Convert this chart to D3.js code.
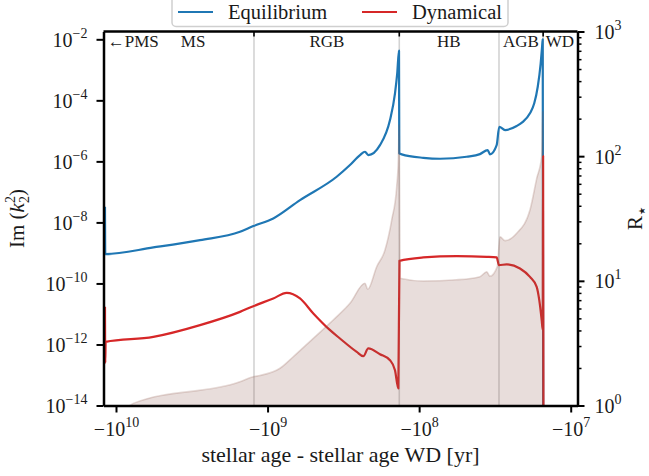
<!DOCTYPE html>
<html>
<head>
<meta charset="utf-8">
<script src="https://cdn.jsdelivr.net/npm/d3@7"></script>
<style>
  body { margin: 0; background: #ffffff; }
</style>
</head>
<body>
<svg id="chart" width="649" height="476"></svg>
<script>
// Stellar age relative to the white-dwarf formation age [yr] and the tidal response.
// Equilibrium tide, Im(k2^2)
const eqAge = [-1.182e10, -1.177e10, -5.67e9, -2.79e9, -1.52e9, -1.242e9, -9.17e8, -6.11e8,
  -3.50e8, -2.86e8, -2.455e8, -2.276e8, -2.165e8, -1.813e8, -1.557e8, -1.443e8, -1.395e8,
  -1.358e8, -1.352e8, -1.303e8, -9.39e7, -7.28e7, -4.86e7, -3.97e7, -3.53e7, -3.41e7,
  -3.08e7, -2.96e7, -2.71e7, -2.272e7, -2.08e7, -1.857e7, -1.74e7, -1.65e7, -1.578e7,
  -1.545e7, -1.530e7, -1.517e7];
const eqVal = [3.24e-8, 9.14e-10, 1.51e-9, 2.63e-9, 4.92e-9, 7.57e-9, 1.35e-8, 5.38e-8,
  3.13e-7, 7.57e-7, 1.61e-6, 2.07e-6, 1.61e-6, 3.42e-6, 2.26e-5, 1.70e-4, 7.67e-4,
  4.23e-3, 1.83e-6, 1.70e-6, 1.31e-6, 1.22e-6, 1.42e-6, 1.73e-6, 2.34e-6, 1.70e-6,
  3.42e-6, 1.36e-5, 1.06e-5, 1.44e-5, 1.93e-5, 3.75e-5, 7.98e-5, 2.79e-4, 1.63e-3,
  5.71e-3, 1.0e-2, 1e-16];

// Dynamical tide, Im(k2^2)
const dynAge = [-1.182e10, -1.177e10, -1.17e10, -5.67e9, -2.79e9, -1.52e9, -1.242e9, -9.17e8,
  -7.48e8, -6.11e8, -4.99e8, -3.87e8, -3.33e8, -2.58e8, -2.336e8, -2.165e8, -1.813e8,
  -1.557e8, -1.443e8, -1.372e8, -1.348e8, -9.39e7, -5.65e7, -3.58e7, -3.08e7, -2.973e7,
  -2.645e7, -2.161e7, -1.857e7, -1.677e7, -1.612e7, -1.554e7, -1.530e7, -1.521e7, -1.512e7];
const dynVal = [1.71e-11, 2.49e-13, 1.22e-12, 1.77e-12, 4.30e-12, 1.17e-11, 1.8e-11, 3.22e-11,
  4.92e-11, 3.22e-11, 1.04e-11, 2.94e-12, 1.57e-12, 5.71e-13, 4.13e-13, 7.40e-13, 4.8e-13,
  3.05e-13, 1.44e-13, 3.60e-14, 5.51e-10, 7.11e-10, 7.85e-10, 7.45e-10, 7.11e-10, 3.98e-10,
  4.20e-10, 3.10e-10, 1.64e-10, 7.74e-11, 2.83e-11, 6.27e-12, 3e-12, 1.49e-6, 1e-16];

// Stellar radius R* [R_sun]
const radAge = [-1.182e10, -8.08e9, -7.69e9, -1.52e9, -1.242e9, -1.122e9, -8.28e8, -6.77e8,
  -4.99e8, -3.69e8, -2.86e8, -2.276e8, -2.185e8, -1.905e8, -1.680e8, -1.517e8, -1.406e8,
  -1.372e8, -1.354e8, -1.338e8, -9.39e7, -5.65e7, -3.97e7, -3.58e7, -3.41e7, -3.05e7,
  -2.93e7, -2.71e7, -2.272e7, -1.857e7, -1.677e7, -1.554e7, -1.530e7, -1.512e7];
const radVal = [0.85, 1.0, 1.04, 1.55, 1.70, 1.74, 1.99, 2.46, 3.46, 4.85, 6.61, 9.56, 8.55,
  12.98, 17.67, 30.7, 56.9, 93.2, 177.8, 10.5, 9.97, 10.2, 10.8, 11.8, 10.9, 13.0, 22.6,
  21.0, 24.1, 37.0, 66.0, 99.5, 227, 0.01];

// Evolutionary phases
const phaseNames = ["\u2190PMS", "MS", "RGB", "HB", "AGB", "WD"];
const phaseAges = [-7.69e9, -3.10e9, -4.06e8, -6.37e7, -2.13e7, -1.18e7];
const dividerAges = [-1.229e9, -1.352e8, -2.973e7, -1.52e7];
const topMarkAges = [-1.229e9, -1.352e8, -1.52e7];

// Tick values
const xTicks = [-1e10, -1e9, -1e8, -1e7];
const xTickExp = ["10", "9", "8", "7"];
const yLeftTicks = [1e-2, 1e-4, 1e-6, 1e-8, 1e-10, 1e-12, 1e-14];
const yLeftExp = ["\u22122", "\u22124", "\u22126", "\u22128", "\u221210", "\u221212", "\u221214"];
const yRightTicks = [1, 10, 100, 1000];
const yRightExp = ["0", "1", "2", "3"];

const seriesNames = ["Equilibrium", "Dynamical"];
const seriesColors = ["#1f77b4", "#d62728"];

const FONT = "'Liberation Serif', 'DejaVu Serif', serif";
const svg = d3.select("#chart").style("font-family", FONT);
const L = 103.5, R = 577.5, T = 31.5, B = 405.5;

const x = d3.scaleLog().domain([-1.209e10, -9.02e6]).range([L, R]);
const yL = d3.scaleLog().domain([1e-14, Math.pow(10, -1.744)]).range([B, T]);
const yR = d3.scaleLog().domain([1, 1000]).range([B, T]);

function txt(parent, size) {
  return parent.append("text")
    .attr("font-family", FONT).style("font-family", FONT)
    .style("font-size", size + "px").attr("fill", "#1a1a1a");
}

svg.append("defs").append("clipPath").attr("id", "plotclip")
  .append("rect").attr("x", L).attr("y", T).attr("width", R - L).attr("height", B - T);

const plot = svg.append("g").attr("clip-path", "url(#plotclip)");

// phase dividers
plot.selectAll("line.div").data(dividerAges).join("line")
  .attr("class", "div")
  .attr("x1", d => x(d)).attr("x2", d => x(d))
  .attr("y1", T).attr("y2", B)
  .attr("stroke", "#d3d3d3").attr("stroke-width", 1.6);

// tidal response curves
const eqData = eqAge.map((a, i) => [a, eqVal[i]]);
const dynData = dynAge.map((a, i) => [a, dynVal[i]]);
const lineL = d3.line().x(d => x(d[0])).y(d => yL(d[1])).curve(d3.curveMonotoneX);

plot.append("path").datum(eqData).attr("d", lineL)
  .attr("fill", "none").attr("stroke", seriesColors[0]).attr("stroke-width", 2.2)
  .attr("stroke-linejoin", "round");
plot.append("path").datum(dynData).attr("d", lineL)
  .attr("fill", "none").attr("stroke", seriesColors[1]).attr("stroke-width", 2.2)
  .attr("stroke-linejoin", "round");

// stellar radius (right axis), shaded
const radData = radAge.map((a, i) => [a, radVal[i]]);
const area = d3.area().x(d => x(d[0])).y0(B).y1(d => yR(d[1])).curve(d3.curveMonotoneX);
plot.append("path").datum(radData).attr("d", area)
  .attr("fill", "rgba(140,86,75,0.2)").attr("stroke", "none");
plot.append("path").datum(radData)
  .attr("d", d3.line().x(d => x(d[0])).y(d => yR(d[1])).curve(d3.curveMonotoneX))
  .attr("fill", "none").attr("stroke", "rgba(140,86,75,0.22)").attr("stroke-width", 1.6);

// short marks under the top spine at phase boundaries
svg.selectAll("line.mark").data(topMarkAges).join("line")
  .attr("class", "mark")
  .attr("x1", d => x(d)).attr("x2", d => x(d))
  .attr("y1", T).attr("y2", T + 5)
  .attr("stroke", "#000").attr("stroke-width", 1.6);

// phase labels
phaseNames.forEach((n, i) => {
  txt(svg, 17).attr("x", x(phaseAges[i])).attr("y", 46.5)
    .attr("text-anchor", "middle").text(n);
});

// axes
const tickStroke = 2;
const xAxis = svg.append("g").attr("transform", `translate(0,${B})`)
  .call(d3.axisBottom(x).tickValues(xTicks).tickSize(7).tickSizeOuter(0).tickFormat(""));
xAxis.selectAll(".tick text").remove();
xAxis.selectAll(".tick").each(function(d, i) {
  const t = txt(d3.select(this), 20).attr("y", 30).attr("text-anchor", "middle");
  t.append("tspan").text("\u221210");
  t.append("tspan").attr("dy", -9).style("font-size", "14px").text(xTickExp[i]);
});

const yAxisL = svg.append("g").attr("transform", `translate(${L},0)`)
  .call(d3.axisLeft(yL).tickValues(yLeftTicks).tickSize(7).tickSizeOuter(0).tickFormat(""));
yAxisL.selectAll(".tick text").remove();
yAxisL.selectAll(".tick").each(function(d, i) {
  const t = txt(d3.select(this), 20).attr("x", -16).attr("y", 7).attr("text-anchor", "end");
  t.append("tspan").text("10");
  t.append("tspan").attr("dy", -9).style("font-size", "14px").text(yLeftExp[i]);
});

const minorR = [];
[1, 10, 100].forEach(p => { for (let k = 2; k <= 9; k++) minorR.push(k * p); });
svg.append("g").attr("transform", `translate(${R},0)`)
  .call(d3.axisRight(yR).tickValues(minorR).tickSize(4).tickSizeOuter(0).tickFormat(""))
  .call(g => g.select(".domain").remove())
  .selectAll(".tick line").attr("stroke-width", 1.5);
const yAxisR = svg.append("g").attr("transform", `translate(${R},0)`)
  .call(d3.axisRight(yR).tickValues(yRightTicks).tickSize(7).tickSizeOuter(0).tickFormat(""));
yAxisR.selectAll(".tick text").remove();
yAxisR.selectAll(".tick").each(function(d, i) {
  const t = txt(d3.select(this), 20).attr("x", 17).attr("y", 7).attr("text-anchor", "start");
  t.append("tspan").text("10");
  t.append("tspan").attr("dy", -9).style("font-size", "14px").text(yRightExp[i]);
});

[xAxis, yAxisL, yAxisR].forEach(g => {
  g.selectAll(".tick line").attr("stroke-width", tickStroke);
  g.select(".domain").attr("stroke-width", 2.5);
});

// top spine
svg.append("line").attr("x1", L).attr("x2", R).attr("y1", T).attr("y2", T)
  .attr("stroke", "#000").attr("stroke-width", 2.5);

// axis titles
txt(svg, 22).attr("x", (L + R) / 2).attr("y", 462).attr("text-anchor", "middle")
  .text("stellar age - stellar age WD [yr]");

const yl = txt(svg, 21).attr("transform", `translate(24,${(T + B) / 2}) rotate(-90)`)
  .attr("text-anchor", "middle");
yl.append("tspan").text("Im (");
yl.append("tspan").style("font-style", "italic").text("k");
yl.append("tspan").attr("dy", 5).style("font-size", "14px").text("2");
yl.append("tspan").attr("dx", -7).attr("dy", -14).style("font-size", "14px").text("2");
yl.append("tspan").attr("dy", 9).text(")");

const yr = txt(svg, 21).attr("transform", `translate(642,${(T + B) / 2}) rotate(-90)`)
  .attr("text-anchor", "middle");
yr.append("tspan").text("R");
yr.append("tspan").attr("dy", 3).attr("dx", 1).style("font-size", "9px")
  .style("font-family", "'DejaVu Sans', sans-serif").text("\u2605");

// legend
const lg = svg.append("g");
lg.append("rect").attr("x", 172).attr("y", -6).attr("width", 336).attr("height", 32.5)
  .attr("rx", 4).attr("fill", "rgba(255,255,255,0.85)").attr("stroke", "#cfcfcf").attr("stroke-width", 1.5);
const legX = [178, 362];
seriesNames.forEach((n, i) => {
  lg.append("line").attr("x1", legX[i]).attr("x2", legX[i] + 35).attr("y1", 12).attr("y2", 12)
    .attr("stroke", seriesColors[i]).attr("stroke-width", 2.2);
  txt(lg, 20.5).attr("x", legX[i] + 50).attr("y", 18.5).text(n);
});
</script>
</body>
</html>
